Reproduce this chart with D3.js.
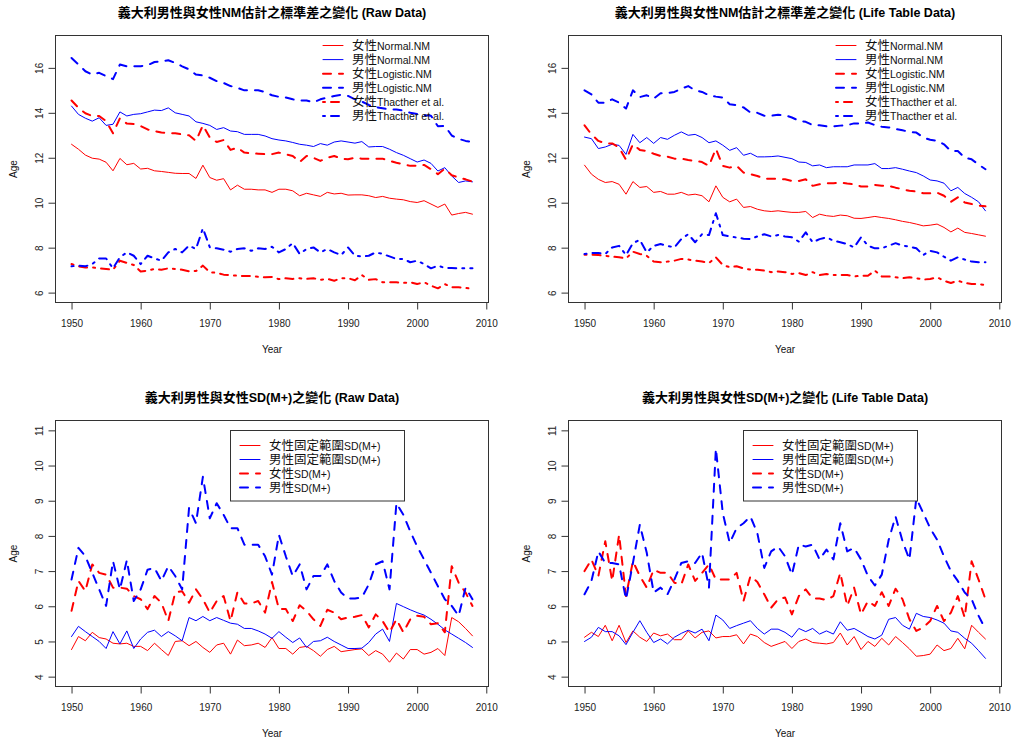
<!DOCTYPE html>
<html>
<head>
<meta charset="utf-8">
<script src="https://cdn.jsdelivr.net/npm/d3@7"></script>
<style>
  body { margin: 0; background: #fff; }
  text { font-family: "Liberation Sans", Arial, "Noto Sans CJK TC", sans-serif; }
</style>
</head>
<body>
<svg id="chart" width="1013" height="742"></svg>
<script>

var years = d3.range(1950, 2009);
var yearTicks = [1950, 1960, 1970, 1980, 1990, 2000, 2010];
var nmTicks = [6, 8, 10, 12, 14, 16];
var sdTicks = [4, 5, 6, 7, 8, 9, 10, 11];

var titles = [
	"義大利男性與女性NM估計之標準差之變化 (Raw Data)",
	"義大利男性與女性NM估計之標準差之變化 (Life Table Data)",
	"義大利男性與女性SD(M+)之變化 (Raw Data)",
	"義大利男性與女性SD(M+)之變化 (Life Table Data)"
];
var nmLabels = ["女性Normal.NM", "男性Normal.NM", "女性Logistic.NM", "男性Logistic.NM", "女性Thacther et al.", "男性Thacther et al."];
var sdLabels = ["女性固定範圍SD(M+)", "男性固定範圍SD(M+)", "女性SD(M+)", "男性SD(M+)"];

// ---- raw data, NM standard deviation ----
var rawFemNormal = [12.6, 12.38, 12.12, 11.98, 11.94, 11.8, 11.42, 11.97, 11.69, 11.75,
	11.5, 11.53, 11.42, 11.39, 11.35, 11.31, 11.3, 11.3, 11.08, 11.67,
	11.12, 11.0, 11.07, 10.57, 10.78, 10.6, 10.6, 10.57, 10.57, 10.46,
	10.6, 10.6, 10.53, 10.31, 10.42, 10.35, 10.28, 10.46, 10.39, 10.42,
	10.34, 10.35, 10.35, 10.31, 10.23, 10.28, 10.2, 10.16, 10.13, 10.05,
	10.01, 10.09, 9.94, 9.79, 9.94, 9.45, 9.52, 9.57, 9.49];
var rawMaleNormal = [14.3, 13.93, 13.76, 13.63, 13.78, 13.44, 13.49, 14.04, 13.86, 13.93,
	13.96, 14.04, 14.12, 14.1, 14.22, 14.0, 13.93, 13.86, 13.6, 13.53,
	13.44, 13.26, 13.34, 13.19, 13.16, 13.04, 13.04, 13.04, 12.97, 12.85,
	12.79, 12.75, 12.68, 12.6, 12.56, 12.5, 12.63, 12.56, 12.7, 12.75,
	12.7, 12.65, 12.72, 12.48, 12.5, 12.5, 12.38, 12.23, 12.11, 11.96,
	11.81, 11.9, 11.75, 11.41, 11.56, 11.19, 10.9, 10.97, 10.93];
var rawFemLogistic = [14.55, 14.22, 13.98, 13.86, 13.86, 13.63, 13.09, 13.76, 13.52, 13.5,
	13.41, 13.26, 13.19, 13.12, 13.1, 13.09, 13.04, 13.0, 12.75, 13.44,
	12.9, 12.7, 12.79, 12.35, 12.45, 12.23, 12.2, 12.18, 12.16, 12.16,
	12.23, 12.15, 12.08, 11.81, 12.08, 12.0, 11.86, 12.0, 12.08, 11.96,
	11.93, 12.0, 11.96, 11.96, 11.96, 11.96, 11.86, 11.78, 11.71, 11.64,
	11.64, 11.68, 11.49, 11.27, 11.52, 11.22, 11.12, 11.04, 10.94];
var rawMaleLogistic = [16.44, 16.15, 15.85, 15.7, 15.78, 15.63, 15.5, 16.15, 16.07, 16.07,
	16.07, 16.12, 16.26, 16.28, 16.34, 16.22, 16.07, 15.93, 15.7, 15.66,
	15.56, 15.41, 15.33, 15.19, 15.11, 15.0, 15.0, 15.0, 14.92, 14.78,
	14.71, 14.68, 14.6, 14.55, 14.55, 14.46, 14.6, 14.68, 14.75, 14.8,
	14.75, 14.6, 14.5, 14.35, 14.25, 14.2, 14.15, 14.15, 14.1, 14.0,
	13.95, 13.9, 13.87, 13.4, 13.42, 12.99, 12.84, 12.75, 12.69];
var rawFemThatcher = [7.27, 7.17, 7.12, 7.12, 7.08, 7.05, 7.02, 7.42, 7.32, 7.23,
	6.94, 6.98, 7.05, 7.02, 7.08, 7.05, 7.02, 6.95, 6.96, 7.2,
	6.91, 6.88, 6.8, 6.78, 6.75, 6.74, 6.74, 6.7, 6.68, 6.7,
	6.6, 6.64, 6.61, 6.64, 6.61, 6.64, 6.57, 6.61, 6.53, 6.64,
	6.64, 6.55, 6.78, 6.57, 6.6, 6.46, 6.46, 6.46, 6.43, 6.46,
	6.38, 6.46, 6.31, 6.19, 6.38, 6.24, 6.24, 6.21, 6.16];
var rawMaleThatcher = [7.17, 7.2, 7.17, 7.27, 7.52, 7.52, 7.08, 7.57, 7.79, 7.64,
	7.27, 7.64, 7.52, 7.42, 7.79, 7.94, 7.79, 8.09, 7.94, 8.86,
	8.02, 7.97, 7.91, 7.82, 7.94, 7.97, 7.86, 7.97, 7.94, 8.04,
	7.79, 7.94, 8.2, 7.72, 7.94, 8.01, 7.79, 7.94, 7.79, 7.67,
	8.01, 7.64, 7.61, 7.64, 7.79, 7.72, 7.61, 7.5, 7.5, 7.35,
	7.42, 7.27, 7.08, 7.2, 7.1, 7.1, 7.08, 7.08, 7.08];

// ---- life table data, NM standard deviation ----
var lifeFemNormal = [11.67, 11.27, 11.04, 10.9, 10.94, 10.82, 10.38, 10.94, 10.68, 10.72,
	10.46, 10.5, 10.38, 10.38, 10.46, 10.34, 10.38, 10.31, 10.04, 10.75,
	10.24, 10.04, 10.16, 9.79, 9.83, 9.71, 9.64, 9.61, 9.64, 9.6,
	9.57, 9.57, 9.61, 9.34, 9.49, 9.42, 9.39, 9.45, 9.42, 9.31,
	9.3, 9.34, 9.39, 9.34, 9.3, 9.24, 9.17, 9.12, 9.05, 8.97,
	9.0, 9.05, 8.9, 8.7, 8.87, 8.68, 8.63, 8.57, 8.51];
var lifeMaleNormal = [12.92, 12.85, 12.41, 12.48, 12.6, 12.55, 12.15, 13.04, 12.67, 12.9,
	12.64, 12.9, 12.82, 13.0, 13.15, 13.0, 13.04, 12.9, 12.67, 12.75,
	12.56, 12.33, 12.45, 12.11, 12.2, 12.04, 12.04, 12.05, 12.08, 12.02,
	11.96, 11.81, 11.79, 11.64, 11.68, 11.56, 11.6, 11.6, 11.6, 11.68,
	11.68, 11.68, 11.74, 11.52, 11.52, 11.56, 11.49, 11.41, 11.34, 11.19,
	11.01, 10.97, 10.87, 10.53, 10.68, 10.41, 10.24, 10.04, 9.64];
var lifeFemLogistic = [13.44, 13.04, 12.75, 12.64, 12.64, 12.45, 11.91, 12.6, 12.35, 12.3,
	12.18, 12.08, 12.05, 11.96, 11.96, 11.9, 11.86, 11.81, 11.64, 12.4,
	11.64, 11.56, 11.64, 11.34, 11.27, 11.19, 11.07, 11.07, 11.07, 11.04,
	10.97, 10.97, 11.04, 10.75, 10.82, 10.87, 10.87, 10.9, 10.85, 10.82,
	10.72, 10.72, 10.79, 10.75, 10.75, 10.67, 10.6, 10.53, 10.5, 10.42,
	10.42, 10.45, 10.31, 10.04, 10.24, 10.01, 9.94, 9.87, 9.84];
var lifeMaleLogistic = [15.0, 14.82, 14.45, 14.45, 14.6, 14.45, 14.19, 15.0, 14.7, 14.78,
	14.63, 14.87, 14.87, 14.93, 15.07, 15.19, 15.0, 14.93, 14.78, 14.72,
	14.68, 14.38, 14.34, 14.24, 14.01, 14.0, 13.87, 13.87, 13.91, 13.9,
	13.79, 13.65, 13.6, 13.45, 13.45, 13.4, 13.4, 13.43, 13.45, 13.53,
	13.52, 13.57, 13.45, 13.38, 13.35, 13.28, 13.22, 13.15, 13.12, 12.9,
	12.8, 12.76, 12.6, 12.3, 12.3, 12.0, 11.93, 11.7, 11.49];
var lifeFemThatcher = [7.69, 7.69, 7.67, 7.64, 7.6, 7.57, 7.52, 7.82, 7.72, 7.64,
	7.38, 7.35, 7.38, 7.42, 7.5, 7.47, 7.42, 7.38, 7.32, 7.57,
	7.23, 7.13, 7.17, 7.08, 7.02, 7.02, 6.98, 6.91, 6.94, 6.91,
	6.83, 6.87, 6.78, 6.91, 6.78, 6.83, 6.78, 6.78, 6.78, 6.72,
	6.75, 6.75, 6.98, 6.72, 6.72, 6.68, 6.64, 6.68, 6.64, 6.58,
	6.61, 6.68, 6.53, 6.43, 6.53, 6.43, 6.38, 6.38, 6.34];
var lifeMaleThatcher = [7.72, 7.76, 7.76, 7.72, 8.01, 8.08, 7.67, 8.2, 8.35, 7.79,
	8.08, 8.16, 8.08, 8.01, 8.38, 8.6, 8.24, 8.6, 8.56, 9.53,
	8.56, 8.5, 8.45, 8.4, 8.38, 8.5, 8.6, 8.5, 8.56, 8.5,
	8.46, 8.27, 8.68, 8.24, 8.38, 8.46, 8.31, 8.24, 8.16, 8.01,
	8.46, 8.09, 7.97, 7.97, 8.09, 8.2, 8.09, 8.05, 7.97, 7.67,
	7.86, 7.79, 7.6, 7.42, 7.57, 7.47, 7.38, 7.35, 7.35];

// ---- SD(M+), raw data ----
var sdRawFemFixed = [4.77, 5.14, 5.02, 5.26, 5.11, 5.07, 4.95, 4.93, 4.95, 4.86,
	4.86, 4.74, 4.95, 4.77, 4.6, 5.0, 5.02, 4.88, 5.0, 4.83,
	4.69, 4.9, 4.95, 4.64, 5.04, 4.88, 4.9, 4.95, 4.83, 5.11,
	4.8, 4.8, 4.64, 4.83, 4.86, 4.74, 4.58, 4.77, 4.86, 4.71,
	4.74, 4.77, 4.79, 4.6, 4.74, 4.64, 4.41, 4.67, 4.5, 4.77,
	4.77, 4.64, 4.69, 4.8, 4.6, 5.68, 5.56, 5.37, 5.16];
var sdRawMaleFixed = [5.14, 5.43, 5.28, 5.14, 5.0, 4.8, 5.28, 4.93, 5.3, 4.8,
	5.07, 5.26, 5.32, 5.14, 5.28, 5.16, 5.02, 5.68, 5.59, 5.71,
	5.59, 5.68, 5.6, 5.52, 5.49, 5.37, 5.37, 5.3, 5.21, 5.09,
	5.28, 5.12, 4.97, 5.1, 4.83, 5.0, 5.02, 5.12, 5.0, 4.9,
	4.8, 4.8, 4.81, 4.97, 5.21, 5.35, 5.0, 6.08, 5.99, 5.9,
	5.82, 5.75, 5.63, 5.49, 5.33, 5.21, 5.09, 4.97, 4.83];
var sdRawFem = [5.87, 6.72, 6.43, 7.19, 6.95, 6.9, 6.53, 6.53, 6.5, 6.29,
	6.2, 5.92, 6.29, 6.1, 5.58, 6.39, 6.43, 6.1, 6.48, 6.2,
	5.82, 6.15, 6.29, 5.58, 6.4, 6.08, 6.08, 6.15, 5.82, 6.69,
	5.92, 5.92, 5.58, 6.03, 5.87, 5.63, 5.44, 5.9, 5.82, 5.63,
	5.68, 5.7, 5.75, 5.4, 5.77, 5.58, 5.26, 5.63, 5.26, 5.63,
	5.73, 5.7, 5.49, 5.52, 5.26, 7.14, 6.67, 6.39, 6.01];
var sdRawMale = [6.76, 7.66, 7.42, 6.95, 6.48, 6.01, 7.28, 6.48, 7.31, 6.15,
	6.48, 7.04, 7.09, 6.72, 7.14, 6.86, 6.48, 8.79, 8.36, 9.68,
	8.5, 8.93, 8.6, 8.22, 8.22, 7.75, 7.75, 7.75, 7.42, 6.9,
	8.03, 7.42, 6.86, 7.19, 6.48, 6.86, 6.86, 7.19, 6.72, 6.39,
	6.22, 6.22, 6.25, 6.62, 7.19, 7.28, 6.48, 8.93, 8.6, 8.13,
	7.7, 7.33, 6.95, 6.57, 6.2, 6.01, 5.73, 6.53, 6.2];

// ---- SD(M+), life table data ----
var sdLifeFemFixed = [5.12, 5.26, 5.14, 5.46, 5.02, 5.46, 4.97, 5.3, 5.12, 5.0,
	5.24, 5.16, 5.21, 5.05, 5.05, 5.3, 5.1, 5.26, 5.3, 5.1,
	5.14, 5.14, 5.19, 4.93, 5.21, 5.14, 4.97, 4.86, 4.93, 5.0,
	4.8, 5.0, 5.07, 4.97, 4.95, 4.93, 4.97, 5.24, 4.9, 5.14,
	4.77, 5.0, 4.86, 5.09, 4.9, 5.14, 4.97, 4.79, 4.58, 4.6,
	4.64, 4.9, 4.74, 4.8, 5.09, 4.79, 5.46, 5.26, 5.07];
var sdLifeMaleFixed = [5.0, 5.12, 5.4, 5.28, 5.28, 5.16, 4.91, 5.26, 5.59, 5.26,
	4.97, 5.07, 4.93, 5.12, 5.23, 5.32, 5.24, 5.35, 5.02, 5.75,
	5.61, 5.37, 5.45, 5.52, 5.59, 5.37, 5.21, 5.35, 5.35, 5.26,
	5.12, 5.37, 5.28, 5.37, 5.21, 5.3, 5.21, 5.56, 5.32, 5.37,
	5.26, 5.14, 5.07, 5.18, 5.63, 5.68, 5.46, 5.35, 5.8, 5.71,
	5.68, 5.61, 5.52, 5.3, 5.26, 5.09, 4.95, 4.74, 4.52];
var sdLifeFem = [7.0, 7.33, 6.86, 7.85, 6.72, 8.03, 6.29, 7.28, 6.86, 6.53,
	7.04, 6.95, 6.95, 6.67, 6.62, 7.19, 6.72, 6.95, 7.19, 6.76,
	6.76, 6.76, 6.95, 6.15, 6.86, 6.69, 6.34, 5.96, 6.2, 6.25,
	5.77, 6.29, 6.48, 6.22, 6.22, 6.18, 6.29, 6.95, 6.01, 6.53,
	5.77, 6.15, 6.01, 6.4, 6.01, 6.5, 6.2, 5.63, 5.3, 5.4,
	5.58, 6.01, 5.58, 5.82, 6.29, 5.68, 7.28, 6.76, 6.2];
var sdLifeMale = [6.34, 6.72, 7.56, 7.23, 7.23, 7.19, 6.2, 7.23, 8.32, 7.52,
	6.39, 6.53, 6.34, 6.76, 7.23, 7.28, 7.23, 7.52, 6.53, 10.48,
	8.65, 7.8, 8.22, 8.36, 8.55, 8.08, 7.09, 7.56, 7.7, 7.42,
	6.9, 7.75, 7.7, 7.75, 7.33, 7.61, 7.33, 8.36, 7.56, 7.66,
	7.33, 6.86, 6.59, 6.9, 7.89, 8.55, 7.85, 7.33, 9.07, 8.65,
	8.22, 7.89, 7.42, 7.0, 6.72, 6.39, 6.2, 5.73, 5.35];


var svg = d3.select("#chart");

// R style lty: 1 solid, 2 dashed, 4 dot-dash (lwd 2 for the estimated ones)
var lineStyles = {
	solid:   { width: 1, dash: null },
	dashed:  { width: 2, dash: "8,8" },
	dotdash: { width: 2, dash: "2,6,8,6" }
};

var cjk = /[\u3000-\u9fff\uff00-\uffef]/;

// CJK glyphs come out larger than the latin ones in the original, so split the runs
function mixedText(sel, str, cjkSize, latinSize) {
	var parts = str.match(/[\u3000-\u9fff\uff00-\uffef]+|[^\u3000-\u9fff\uff00-\uffef]+/g);
	parts.forEach(function(p) {
		sel.append("tspan")
			.attr("font-size", cjk.test(p) ? cjkSize : latinSize)
			.text(p);
	});
}

function drawPanel(p) {
	var x = d3.scaleLinear().domain([1947.68, 2010.32]).range([p.left, p.right]);
	var y = d3.scaleLinear().domain(p.yDomain).range([p.bottom, p.top]);
	var g = svg.append("g");

	var line = d3.line()
		.x(function(d, i) { return x(years[i]); })
		.y(function(d) { return y(d); });

	p.series.forEach(function(s) {
		var st = lineStyles[s.style];
		g.append("path")
			.attr("d", line(s.values))
			.attr("fill", "none")
			.attr("stroke", s.color)
			.attr("stroke-width", st.width)
			.attr("stroke-dasharray", st.dash)
			.attr("stroke-linecap", "round")
			.attr("stroke-linejoin", "round");
	});

	g.append("rect")
		.attr("x", p.left).attr("y", p.top)
		.attr("width", p.right - p.left).attr("height", p.bottom - p.top)
		.attr("fill", "none").attr("stroke", "#333");

	// x axis
	var xa = g.append("g")
		.attr("transform", "translate(0," + p.bottom + ")")
		.call(d3.axisBottom(x).tickValues(yearTicks).tickSize(7).tickSizeOuter(0)
			.tickPadding(10).tickFormat(d3.format("d")));
	xa.select(".domain").remove();
	xa.selectAll("line").attr("stroke", "#333");
	xa.selectAll("text").attr("font-size", 10).attr("fill", "#222")
		.attr("font-family", "'Liberation Sans', Arial, sans-serif");

	// y axis, labels turned like R's las=0
	var ya = g.append("g")
		.attr("transform", "translate(" + p.left + ",0)")
		.call(d3.axisLeft(y).tickValues(p.yTicks).tickSize(7).tickSizeOuter(0));
	ya.select(".domain").remove();
	ya.selectAll("line").attr("stroke", "#333");
	ya.selectAll("text")
		.attr("x", null).attr("dy", null)
		.attr("text-anchor", "middle")
		.attr("transform", "translate(-12.5,0) rotate(-90)")
		.attr("font-size", 10).attr("fill", "#222")
		.attr("font-family", "'Liberation Sans', Arial, sans-serif");

	// titles
	var mid = (p.left + p.right) / 2;
	var t = g.append("text").attr("x", mid).attr("y", p.top - 18.5)
		.attr("text-anchor", "middle").attr("font-weight", "bold").attr("fill", "#000");
	mixedText(t, p.title, 13, 12.5);

	g.append("text").attr("x", mid).attr("y", p.bottom + 50)
		.attr("text-anchor", "middle").attr("font-size", 10).attr("fill", "#111")
		.text("Year");
	g.append("text")
		.attr("transform", "translate(" + (p.left - 38.5) + "," + ((p.top + p.bottom) / 2) + ") rotate(-90)")
		.attr("text-anchor", "middle").attr("font-size", 10).attr("fill", "#111")
		.text("Age");

	// legend
	var lg = p.legend;
	if (lg.box) {
		g.append("rect")
			.attr("x", lg.x).attr("y", lg.y)
			.attr("width", lg.w).attr("height", lg.h)
			.attr("fill", "#fff").attr("stroke", "#333");
	}
	p.series.forEach(function(s, i) {
		var st = lineStyles[s.style];
		var ry = lg.rowY + i * lg.rowH;
		g.append("line")
			.attr("x1", lg.lineX).attr("x2", lg.lineX + 20)
			.attr("y1", ry).attr("y2", ry)
			.attr("stroke", s.color)
			.attr("stroke-width", st.width)
			.attr("stroke-dasharray", st.dash)
			.attr("stroke-linecap", "round");
		var tx = g.append("text").attr("x", lg.lineX + 29).attr("y", ry + 4).attr("fill", "#111");
		mixedText(tx, s.label, 12.5, 10.5);
	});
}

var topLeftX = 55.5, rightLeftX = 568.5;

drawPanel({
	left: topLeftX, right: 488.5, top: 35.5, bottom: 302.5,
	yDomain: [5.56, 17.44], yTicks: nmTicks, title: titles[0],
	series: [
		{ values: rawFemNormal, color: "#ff0000", style: "solid", label: nmLabels[0] },
		{ values: rawMaleNormal, color: "#0000ff", style: "solid", label: nmLabels[1] },
		{ values: rawFemLogistic, color: "#ff0000", style: "dashed", label: nmLabels[2] },
		{ values: rawMaleLogistic, color: "#0000ff", style: "dashed", label: nmLabels[3] },
		{ values: rawFemThatcher, color: "#ff0000", style: "dotdash", label: nmLabels[4] },
		{ values: rawMaleThatcher, color: "#0000ff", style: "dotdash", label: nmLabels[5] }
	],
	legend: { box: false, lineX: topLeftX + 267.5, rowY: 45.5, rowH: 14.1 }
});

drawPanel({
	left: rightLeftX, right: 1001.5, top: 35.5, bottom: 302.5,
	yDomain: [5.56, 17.44], yTicks: nmTicks, title: titles[1],
	series: [
		{ values: lifeFemNormal, color: "#ff0000", style: "solid", label: nmLabels[0] },
		{ values: lifeMaleNormal, color: "#0000ff", style: "solid", label: nmLabels[1] },
		{ values: lifeFemLogistic, color: "#ff0000", style: "dashed", label: nmLabels[2] },
		{ values: lifeMaleLogistic, color: "#0000ff", style: "dashed", label: nmLabels[3] },
		{ values: lifeFemThatcher, color: "#ff0000", style: "dotdash", label: nmLabels[4] },
		{ values: lifeMaleThatcher, color: "#0000ff", style: "dotdash", label: nmLabels[5] }
	],
	legend: { box: false, lineX: rightLeftX + 267.5, rowY: 45.5, rowH: 14.1 }
});

drawPanel({
	left: topLeftX, right: 488.5, top: 420.5, bottom: 686.5,
	yDomain: [3.72, 11.28], yTicks: sdTicks, title: titles[2],
	series: [
		{ values: sdRawFemFixed, color: "#ff0000", style: "solid", label: sdLabels[0] },
		{ values: sdRawMaleFixed, color: "#0000ff", style: "solid", label: sdLabels[1] },
		{ values: sdRawFem, color: "#ff0000", style: "dashed", label: sdLabels[2] },
		{ values: sdRawMale, color: "#0000ff", style: "dashed", label: sdLabels[3] }
	],
	legend: { box: true, x: topLeftX + 175, y: 430.5, w: 174, h: 70.5,
		lineX: topLeftX + 184.5, rowY: 445.5, rowH: 14 }
});

drawPanel({
	left: rightLeftX, right: 1001.5, top: 420.5, bottom: 686.5,
	yDomain: [3.72, 11.28], yTicks: sdTicks, title: titles[3],
	series: [
		{ values: sdLifeFemFixed, color: "#ff0000", style: "solid", label: sdLabels[0] },
		{ values: sdLifeMaleFixed, color: "#0000ff", style: "solid", label: sdLabels[1] },
		{ values: sdLifeFem, color: "#ff0000", style: "dashed", label: sdLabels[2] },
		{ values: sdLifeMale, color: "#0000ff", style: "dashed", label: sdLabels[3] }
	],
	legend: { box: true, x: rightLeftX + 175, y: 430.5, w: 174, h: 70.5,
		lineX: rightLeftX + 184.5, rowY: 445.5, rowH: 14 }
});

</script>
</body>
</html>
